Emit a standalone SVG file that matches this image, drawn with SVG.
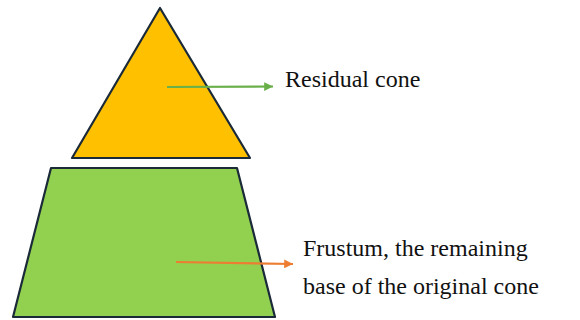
<svg xmlns="http://www.w3.org/2000/svg" width="580" height="320" viewBox="0 0 580 320">
<style>
.shape{stroke:#1b2a38;stroke-width:2.2;stroke-linejoin:round}
</style>
<defs>
<marker id="ag" viewBox="0 0 10 10" refX="10" refY="5" markerWidth="4" markerHeight="4" orient="auto" markerUnits="strokeWidth"><path d="M0,0 L10,5 L0,10 z" fill="#6ab04a"/></marker>
<marker id="ao" viewBox="0 0 10 10" refX="10" refY="5" markerWidth="4" markerHeight="4" orient="auto" markerUnits="strokeWidth"><path d="M0,0 L10,5 L0,10 z" fill="#ed7d31"/></marker>
</defs>
<rect width="580" height="320" fill="#fff"/>
<g id="residual-cone">
<polygon class="shape" points="160,8 72,158 250,158" fill="#ffc000"/>
</g>
<g id="frustum">
<polygon class="shape" points="51,168 237,168 275,317 13,317" fill="#92d050"/>
</g>
<g id="connectors">
<line x1="167" y1="87" x2="273" y2="86.5" stroke="#6ab04a" stroke-width="2.2" marker-end="url(#ag)"/>
<line x1="176" y1="262" x2="293" y2="264" stroke="#ed7d31" stroke-width="2.2" marker-end="url(#ao)"/>
</g>
<g id="labels">
<text x="285" y="87" font-size="24" font-family="Liberation Serif" fill="#111">Residual cone</text>
<text x="303" y="256" font-size="24" font-family="Liberation Serif" fill="#111">Frustum, the remaining</text>
<text x="303" y="294" font-size="24" font-family="Liberation Serif" fill="#111">base of the original cone</text>
</g>
</svg>
